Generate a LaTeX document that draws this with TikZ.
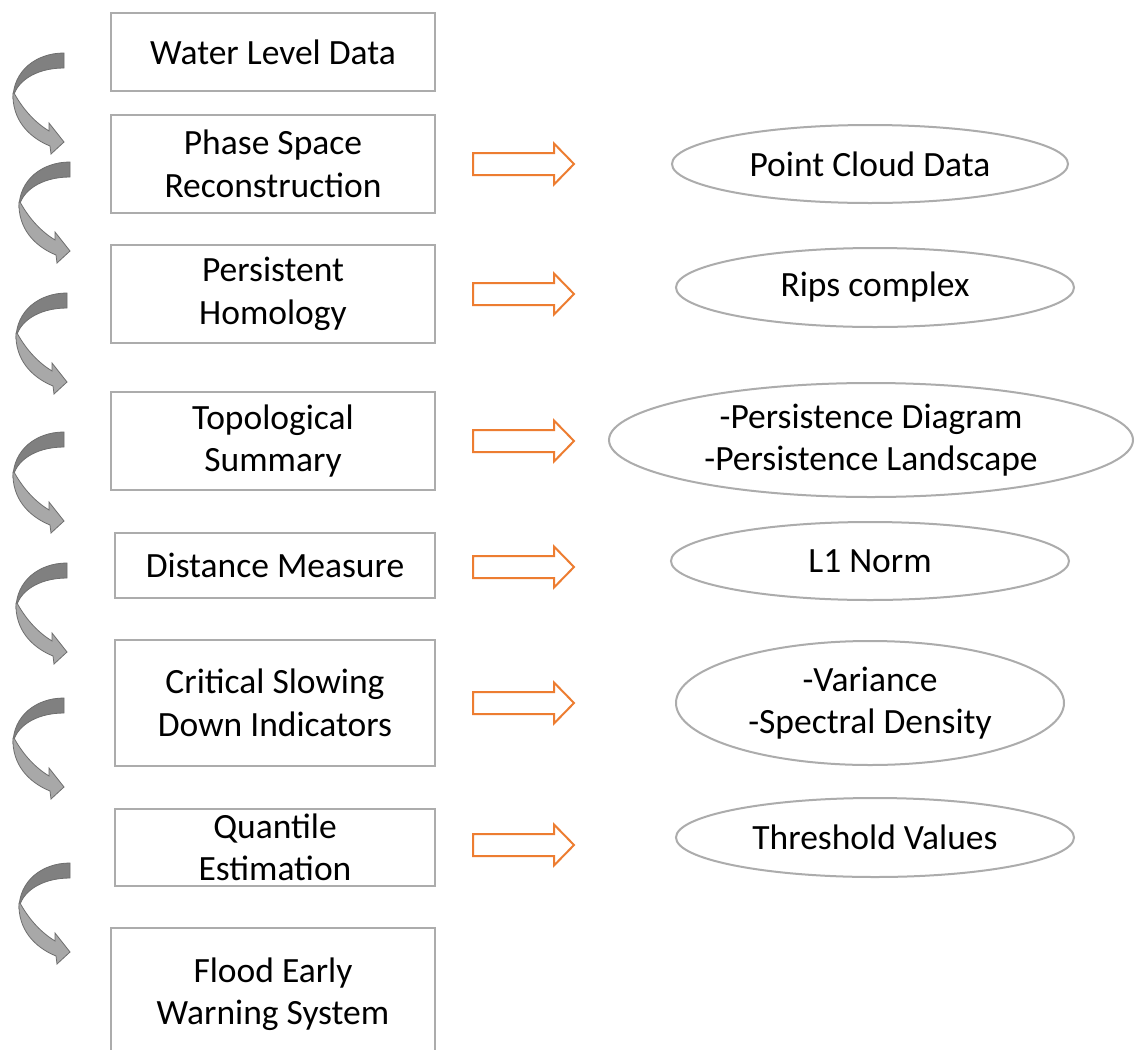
\documentclass[tikz,border=0pt]{standalone}
\usepackage{fontspec}
\setmainfont{Carlito}
\usetikzlibrary{shapes.geometric}
\definecolor{boxgray}{RGB}{172,172,172}
\definecolor{orarr}{RGB}{237,125,49}
\definecolor{cdark}{RGB}{128,128,128}
\definecolor{clight}{RGB}{168,168,168}
\definecolor{cline}{RGB}{110,110,110}
\begin{document}
\begin{tikzpicture}[x=1pt,y=-1pt,
  every node/.style={font=\fontsize{35.5}{42.5}\selectfont, text=black},
  stepbox/.style={draw=boxgray, line width=2pt, rectangle, inner sep=0pt, align=center},
  resell/.style={draw=boxgray, line width=2pt, ellipse, inner sep=0pt, align=center},
  orarrow/.pic={\path[draw=orarr, line width=2pt, fill=white, line join=miter]
     (0,-11) -- (81,-11) -- (81,-20.5) -- (101,0) -- (81,20.5) -- (81,11) -- (0,11) -- cycle;},
  curvarrow/.pic={
     \path[fill=cdark, draw=cline, line width=0.8pt]
       (0,0) .. controls (-28,0) and (-51,18) .. (-51,46)
       .. controls (-49,30) and (-30,15) .. (0,15) -- cycle;
     \path[fill=clight, draw=cline, line width=0.8pt, line join=miter]
       (-51,40) .. controls (-52,66) and (-36,84) .. (-14,93)
       -- (-13,101) -- (0,89) -- (-15,70) -- (-15,78)
       .. controls (-28,70) and (-40,58) .. (-50,40) -- cycle;}
]
\clip (0,0) rectangle (1136,1050);
\fill[white] (0,0) rectangle (1136,1050);

% process boxes
\node[stepbox, minimum width=324, minimum height=78] (b1) at (273,52) {Water Level Data};
\node[stepbox, minimum width=324, minimum height=98] (b2) at (273,164) {Phase Space\\Reconstruction};
\node[stepbox, minimum width=324, minimum height=98] (b3) at (273,294) {Persistent\\Homology};
\node[stepbox, minimum width=324, minimum height=98] (b4) at (273,441) {Topological\\Summary};
\node[stepbox, minimum width=320, minimum height=65] (b5) at (275,565.5) {Distance Measure};
\node[stepbox, minimum width=320, minimum height=126] (b6) at (275,703) {Critical Slowing\\Down Indicators};
\node[stepbox, minimum width=320, minimum height=77] (b7) at (275,847.5) {Quantile\\Estimation};
\node[stepbox, minimum width=324, minimum height=132] (b8) at (273,994) {Flood Early\\Warning System};

% result ellipses
\node[resell, minimum width=396, minimum height=78] (e2) at (870,164) {Point Cloud Data};
\node[resell, minimum width=398, minimum height=79] (e3) at (875,287.5) {Rips complex};
\node[resell, minimum width=524, minimum height=114] (e4) at (871,440) {-Persistence Diagram\\-Persistence Landscape};
\node[resell, minimum width=398, minimum height=78] (e5) at (870,561) {L1 Norm};
\node[resell, minimum width=388, minimum height=124] (e6) at (870,703) {-Variance\\-Spectral Density};
\node[resell, minimum width=398, minimum height=79] (e7) at (875,837.5) {Threshold Values};

% orange arrows from steps to results
\pic at ([xshift=37pt]b2.east) {orarrow};
\pic at ([xshift=37pt]b3.east) {orarrow};
\pic at ([xshift=37pt]b4.east) {orarrow};
\pic at ([xshift=37pt,yshift=-1.5pt]b5.east) {orarrow};
\pic at ([xshift=37pt]b6.east) {orarrow};
\pic at ([xshift=37pt,yshift=2.5pt]b7.east) {orarrow};

% curved arrows between steps
\coordinate (c1) at (64,53);
\coordinate (c2) at (70,162);
\coordinate (c3) at (67,293);
\coordinate (c4) at (64,432);
\coordinate (c5) at (67,563);
\coordinate (c6) at (64,698);
\coordinate (c7) at (70,863);
\foreach \c in {c1,c2,c3,c4,c5,c6,c7} {\pic at (\c) {curvarrow};}
\end{tikzpicture}
\end{document}
